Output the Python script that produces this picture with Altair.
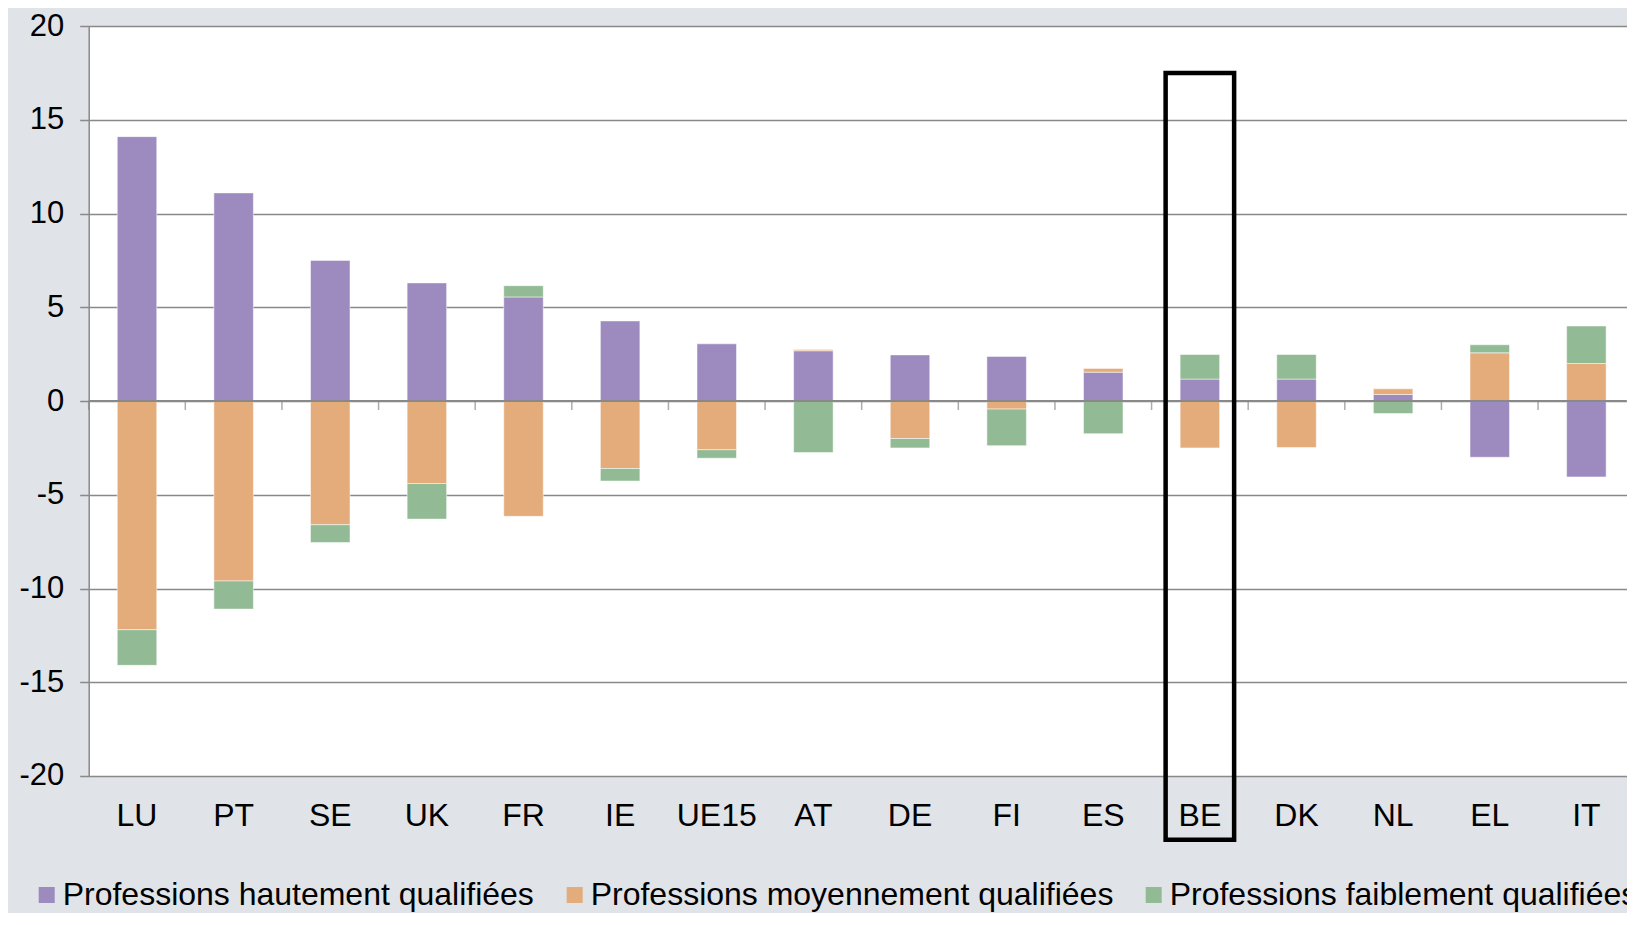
import altair as alt
import pandas as pd

# ---- data ----
countries = ["LU", "PT", "SE", "UK", "FR", "IE", "UE15", "AT", "DE", "FI",
             "ES", "BE", "DK", "NL", "EL", "IT"]
haut = [14.1, 11.1, 7.5, 6.3, 5.55, 4.27, 3.05, 2.68, 2.46, 2.38,
        1.54, 1.17, 1.17, 0.35, -3.0, -4.05]
moyen = [-12.2, -9.6, -6.6, -4.4, -6.15, -3.6, -2.6, 0.07, -2.0, -0.43,
         0.2, -2.5, -2.48, 0.3, 2.57, 2.0]
faible = [-1.9, -1.5, -0.95, -1.9, 0.6, -0.67, -0.45, -2.75, -0.5, -1.95,
          -1.74, 1.31, 1.31, -0.67, 0.43, 2.0]
series = ["Professions hautement qualifiées",
          "Professions moyennement qualifiées",
          "Professions faiblement qualifiées"]
colors = ["#9D8ABF", "#E4AB7B", "#92BB95"]
y_ticks = [-20, -15, -10, -5, 0, 5, 10, 15, 20]
highlight = "BE"
highlight_top = 17.5
highlight_bottom = -23.4

rows = []
for i, c in enumerate(countries):
    for k, vals in enumerate([haut, moyen, faible]):
        rows.append({"pays": c, "serie": series[k], "ordre": k, "valeur": vals[i]})
df = pd.DataFrame(rows)

GRAY = "#898989"
FONT = "Liberation Sans"

# the bands continue a little past the visible right edge, as in the reference
x_scale = alt.Scale(domain=countries, paddingInner=0, paddingOuter=0, range=[0, 1546])
y_scale = alt.Scale(domain=[-20, 20], nice=False, zero=False)

bars = alt.Chart(df).mark_bar(
    width=39.5, stroke="white", strokeWidth=1, strokeOpacity=0.5
).encode(
    x=alt.X("pays:N", scale=x_scale, sort=None, title=None,
            axis=alt.Axis(ticks=False, domain=False, labelFontSize=32,
                          labelPadding=25, labelColor="#000000", labelAngle=0,
                          labelFont=FONT, grid=False)),
    y=alt.Y("valeur:Q", stack="zero", scale=y_scale, title=None,
            axis=alt.Axis(values=y_ticks, grid=True, gridColor=GRAY, gridWidth=1.5,
                          domainColor=GRAY, domainWidth=1.5, tickColor=GRAY,
                          tickSize=9, tickWidth=1.5, labelFontSize=31,
                          labelPadding=16, labelColor="#000000", labelFont=FONT,
                          labelFlush=False, labelExpr="'' + datum.value")),
    color=alt.Color("serie:N", scale=alt.Scale(domain=series, range=colors),
                    legend=alt.Legend(title=None, orient="none", legendX=-58,
                                      legendY=853, direction="horizontal",
                                      columns=3, symbolType="square",
                                      symbolSize=256, symbolStrokeWidth=0,
                                      labelFontSize=32, labelFont=FONT,
                                      labelColor="#000000", labelOffset=0,
                                      columnPadding=24, padding=0,
                                      labelLimit=1000)),
    order=alt.Order("ordre:Q", sort="ascending"),
)

zero_line = alt.Chart(pd.DataFrame({"v": [0]})).mark_rule(
    color=GRAY, strokeWidth=2
).encode(y=alt.Y("v:Q", scale=y_scale, title=None))

ticks = alt.Chart(pd.DataFrame({"pays": countries})).mark_tick(
    orient="vertical", size=9, thickness=1.5, color=GRAY, yOffset=4.5
).encode(
    x=alt.X("pays:N", scale=x_scale, sort=None, bandPosition=0, title=None),
    y=alt.datum(0),
)

hl = alt.Chart(pd.DataFrame({"pays": [highlight], "haut": [highlight_top],
                             "bas": [highlight_bottom]})).mark_bar(
    filled=False, stroke="black", strokeWidth=4.5, width=68.5
).encode(
    x=alt.X("pays:N", scale=x_scale, sort=None, title=None),
    y=alt.Y("haut:Q", scale=y_scale, title=None),
    y2="bas:Q",
)

chart = alt.layer(bars, zero_line, ticks, hl).properties(
    width=1538, height=750,
    autosize=alt.AutoSizeParams(type="none"),
    padding={"left": 80.7, "top": 18, "right": 0, "bottom": 137},
    background="#E0E3E8",
).configure(font=FONT).configure_view(fill="white", stroke="transparent")

chart.save("out.html", embed_options={"renderer": "svg", "actions": False})
